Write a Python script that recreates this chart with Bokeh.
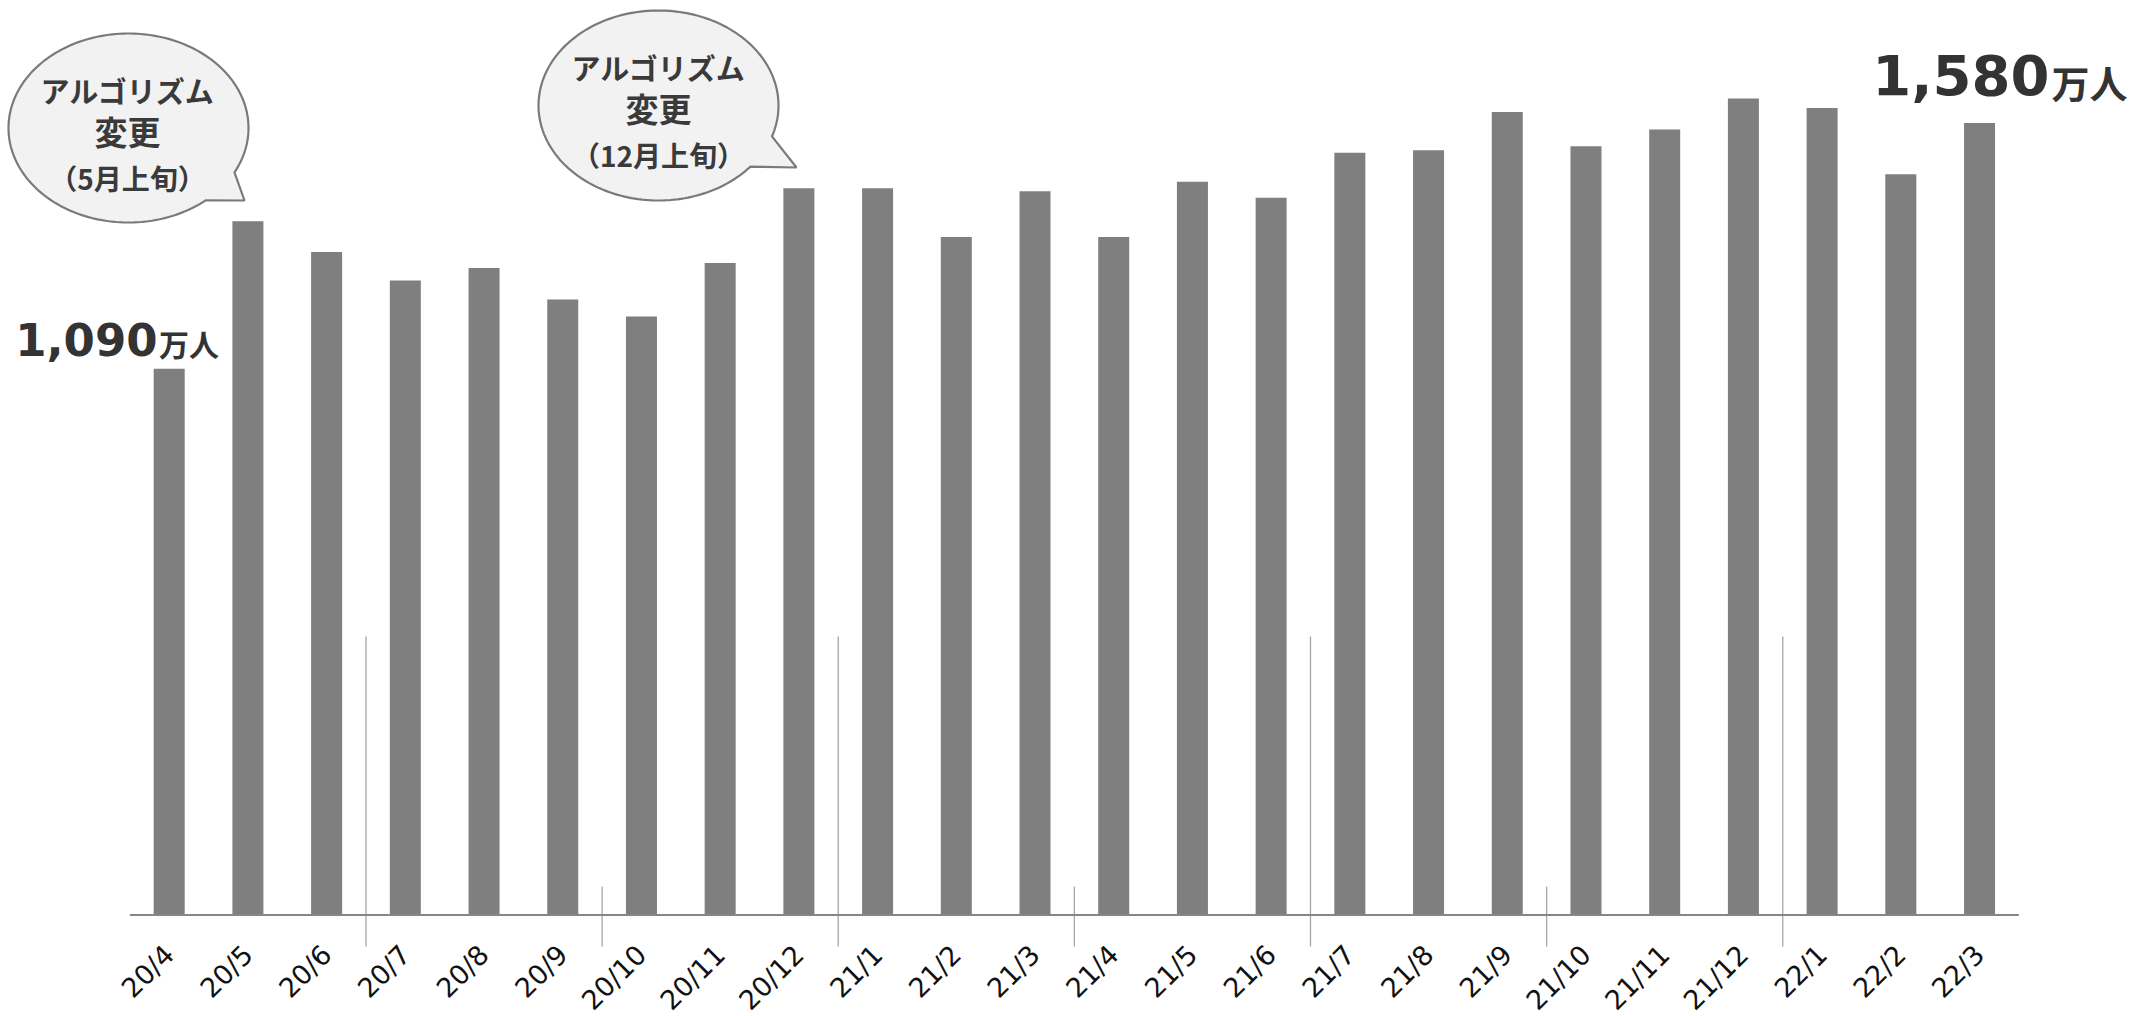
import math
import numpy as np
from bokeh.plotting import figure
from bokeh.models import Range1d, FixedTicker, LinearAxis
from bokeh.core.properties import value
from bokeh.embed import file_html
from bokeh.resources import INLINE

# ---------------- data ----------------
months = ["20/4", "20/5", "20/6", "20/7", "20/8", "20/9", "20/10", "20/11", "20/12",
          "21/1", "21/2", "21/3", "21/4", "21/5", "21/6", "21/7", "21/8", "21/9",
          "21/10", "21/11", "21/12", "22/1", "22/2", "22/3"]
users = [1090, 1384, 1323, 1266, 1291, 1228, 1194, 1301, 1450,
         1450, 1353, 1444, 1353, 1463, 1431, 1521, 1526, 1602,
         1534, 1567, 1629, 1610, 1478, 1580]
unit_text = "万人"
bubble1_lines = ["アルゴリズム", "変更", "（5月上旬）"]
bubble2_lines = ["アルゴリズム", "変更", "（12月上旬）"]
half_year_starts = [3, 9, 15, 21]   # 20/7, 21/1, 21/7, 22/1
quarter_starts = [6, 12, 18]        # 20/10, 21/4, 21/10

# ---------------- geometry ----------------
W, H = 2134, 1016
CAT_PX = 78.71        # pixels per category
X0_PX = 168.7         # centre of first category (px)
BASE_PX = 914.5       # baseline (px from top)
PX_PER_UNIT = 0.5012  # pixels per 1 万人

x_start = -X0_PX / CAT_PX
x_end = x_start + W / CAT_PX
y_end = BASE_PX / PX_PER_UNIT
y_start = -(H - BASE_PX) / PX_PER_UNIT


def fx(px):
    return x_start + px / CAT_PX


def fy(py):
    return y_end - py / PX_PER_UNIT


n = len(months)
idx = list(range(n))

p = figure(width=W, height=H, output_backend="svg", toolbar_location=None,
           x_range=Range1d(x_start, x_end), y_range=Range1d(y_start, y_end),
           x_axis_location=None, y_axis_location=None, min_border=0)
p.outline_line_color = None
p.background_fill_color = "white"
p.border_fill_color = "white"
p.xgrid.visible = False
p.ygrid.visible = False

# bars
p.vbar(x=idx, top=users, bottom=0, width=0.394, fill_color="#7f7f7f", line_color=None)

# separators (half-year long, quarter short)
sep_bottom = fy(946)
p.segment(x0=[b - 0.5 for b in half_year_starts], y0=[sep_bottom] * len(half_year_starts),
          x1=[b - 0.5 for b in half_year_starts], y1=[fy(636)] * len(half_year_starts),
          line_color="#a6a6a6", line_width=1.3)
p.segment(x0=[b - 0.5 for b in quarter_starts], y0=[sep_bottom] * len(quarter_starts),
          x1=[b - 0.5 for b in quarter_starts], y1=[fy(886)] * len(quarter_starts),
          line_color="#a6a6a6", line_width=1.3)

# baseline
p.segment(x0=[-0.5], y0=[0], x1=[n - 0.5], y1=[0], line_color="#868686", line_width=2.2)

# axis with month labels
axis = LinearAxis(fixed_location=0)
axis.ticker = FixedTicker(ticks=idx)
axis.major_label_overrides = {i: m for i, m in zip(idx, months)}
axis.axis_line_color = None
axis.major_tick_line_color = None
axis.minor_tick_line_color = None
axis.major_tick_out = 0
axis.major_tick_in = 0
axis.major_label_orientation = math.pi / 4
axis.major_label_standoff = 35
axis.major_label_text_font = "DejaVu Sans"
axis.major_label_text_font_size = "27px"
axis.major_label_text_color = "#111111"
p.add_layout(axis, "below")


# speech bubbles
def bubble(cx, cy, a, b, tA, tB, tip):
    ts = np.radians(np.linspace(tA, tB - 360, 200))
    xs = [fx(cx + a * math.cos(t)) for t in ts] + [fx(tip[0])]
    ys = [fy(cy + b * math.sin(t)) for t in ts] + [fy(tip[1])]
    p.patch(xs, ys, fill_color="#f2f2f2", line_color="#7a7a7a", line_width=2.2)


bubble(128, 127.5, 120, 94.5, 28, 50, (244, 200))
bubble(658, 105, 120, 95, 19, 40, (796, 167))

cjk = value("Noto Sans CJK JP")
txt_col = "#3a3a3a"


def bubble_text(cx, cy, lines):
    sizes = ["29px", "33px", "28px"]
    dys = [-38.5, 2.5, 49.5]
    for line, s, dy in zip(lines, sizes, dys):
        p.text(x=[fx(cx)], y=[fy(cy + dy)], text=[line], text_font=cjk, text_font_style="bold",
               text_font_size=s, text_color=txt_col, text_align="center", text_baseline="middle")


bubble_text(127, 127.5, bubble1_lines)
bubble_text(658, 105, bubble2_lines)

# value labels for first and last month
num_font = value("DejaVu Sans")
p.text(x=[fx(157)], y=[fy(338.5)], text=[f"{users[0]:,}"], text_font=num_font, text_font_style="bold",
       text_font_size="45px", text_color="#333333", text_align="right", text_baseline="middle")
p.text(x=[fx(158.5)], y=[fy(342.5)], text=[unit_text], text_font=cjk, text_font_style="bold",
       text_font_size="30px", text_color="#333333", text_align="left", text_baseline="middle")
p.text(x=[fx(2049)], y=[fy(74.5)], text=[f"{users[-1]:,}"], text_font=num_font, text_font_style="bold",
       text_font_size="56px", text_color="#333333", text_align="right", text_baseline="middle")
p.text(x=[fx(2051)], y=[fy(81)], text=[unit_text], text_font=cjk, text_font_style="bold",
       text_font_size="38px", text_color="#333333", text_align="left", text_baseline="middle")

open("out.html", "w").write(file_html(p, INLINE))
